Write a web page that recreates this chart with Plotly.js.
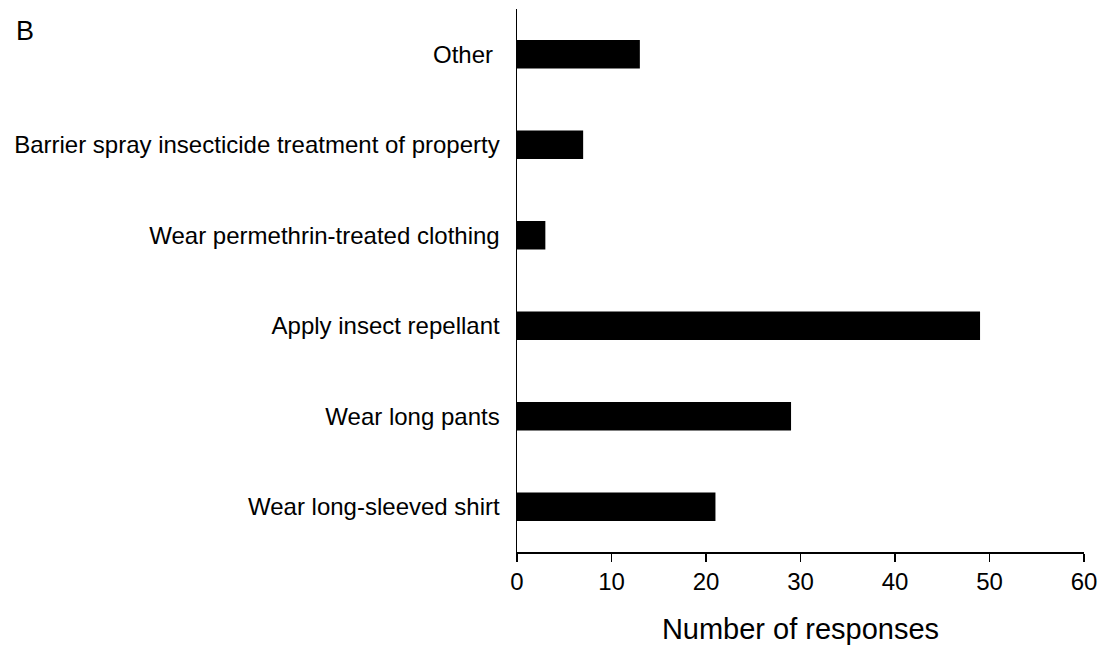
<!DOCTYPE html>
<html>
<head>
<meta charset="utf-8">
<script src="https://cdn.plot.ly/plotly-3.0.1.min.js"></script>
<style>html,body{margin:0;padding:0;background:#fff;}#chart{width:1103px;height:648px;}</style>
</head>
<body>
<div id="chart"></div>
<script>
const categories = ["Wear long-sleeved shirt", "Wear long pants", "Apply insect repellant", "Wear permethrin-treated clothing", "Barrier spray insecticide treatment of property", "Other\u00a0"];
const responses = [21, 29, 49, 3, 7, 13];
const xTicks = [0, 10, 20, 30, 40, 50, 60];

const trace = {
  type: 'bar',
  orientation: 'h',
  y: categories,
  x: responses,
  width: 0.315,
  marker: {color: '#000000', line: {width: 0}},
  hoverinfo: 'x+y'
};

const layout = {
  width: 1103,
  height: 648,
  margin: {l: 517, r: 19, t: 9, b: 96},
  paper_bgcolor: '#ffffff',
  plot_bgcolor: '#ffffff',
  font: {family: 'Liberation Sans, Arial, sans-serif', color: '#000000', size: 24},
  showlegend: false,
  xaxis: {
    range: [0, 60],
    tickvals: xTicks,
    ticktext: xTicks.map(String),
    ticks: 'outside',
    ticklen: 8,
    tickwidth: 1.5,
    tickcolor: '#000',
    showline: true,
    linecolor: '#000',
    linewidth: 1.5,
    showgrid: false,
    zeroline: false,
    tickfont: {size: 24},
    title: {text: 'Number of responses', font: {size: 29}, standoff: 24}
  },
  yaxis: {
    type: 'category',
    categoryorder: 'array',
    categoryarray: categories,
    range: [-0.5, 5.5],
    showline: true,
    linecolor: '#000',
    linewidth: 1.5,
    ticks: '',
    showgrid: false,
    zeroline: false,
    tickfont: {size: 24},
    ticklabelstandoff: 11
  },
  annotations: [{
    text: 'B', xref: 'paper', yref: 'paper', x: -517/567, y: 1,
    xanchor: 'left', yanchor: 'top', showarrow: false,
    font: {size: 27}, xshift: 14, yshift: -5
  }]
};

Plotly.newPlot('chart', [trace], layout, {displayModeBar: false, staticPlot: true});
</script>
</body>
</html>
